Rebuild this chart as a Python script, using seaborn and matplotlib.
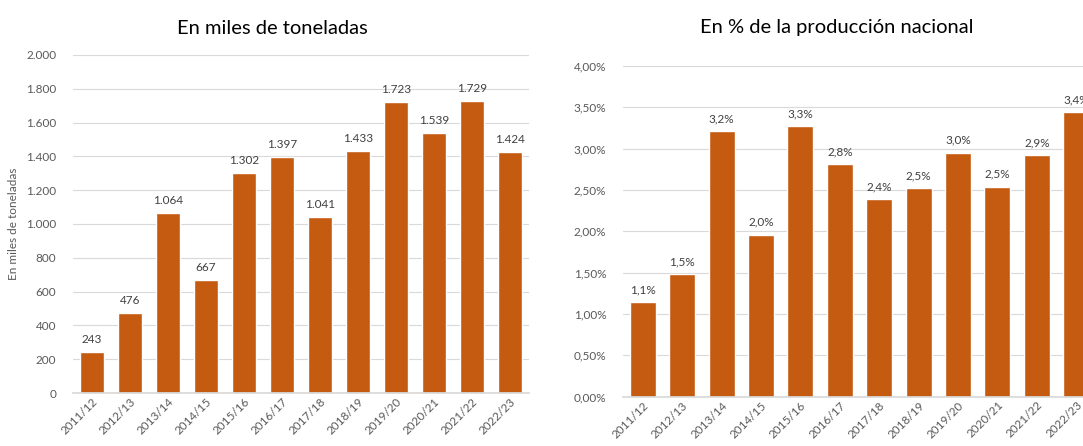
import matplotlib
matplotlib.use('Agg')
import matplotlib.pyplot as plt
import seaborn as sns
import pandas as pd
from matplotlib.ticker import FuncFormatter

campanas = ['2011/12', '2012/13', '2013/14', '2014/15', '2015/16', '2016/17',
            '2017/18', '2018/19', '2019/20', '2020/21', '2021/22', '2022/23']
miles_toneladas = [243, 476, 1064, 667, 1302, 1397, 1041, 1433, 1723, 1539, 1729, 1424]
pct_produccion = [1.14, 1.48, 3.21, 1.96, 3.27, 2.81, 2.39, 2.52, 2.95, 2.54, 2.92, 3.44]

df = pd.DataFrame({'campana': campanas, 'miles': miles_toneladas,
                   'pct': [p / 100 for p in pct_produccion]})

sns.set_theme(style='white')
plt.rcParams['font.family'] = ['Lato', 'DejaVu Sans']

naranja = '#C55A11'
gris_txt = '#595959'
gris_grid = '#D9D9D9'
fs = 8.5

fig = plt.figure(figsize=(10.83, 4.46), dpi=100)
ax1 = fig.add_axes([0.0674, 0.1188, 0.421, 0.758])
ax2 = fig.add_axes([0.5753, 0.1105, 0.4367, 0.742])


def miles_fmt(v, pos=None):
    return f'{int(round(v)):,}'.replace(',', '.')


def pct_fmt(v, pos=None):
    return f'{v * 100:.2f}%'.replace('.', ',')


def estilo(ax):
    ax.set_xlim(-0.5, len(campanas) - 0.5)
    ax.yaxis.grid(True, color=gris_grid, linewidth=0.8)
    ax.set_axisbelow(True)
    for s in ['top', 'right', 'left']:
        ax.spines[s].set_visible(False)
    ax.spines['bottom'].set_color(gris_grid)
    ax.tick_params(axis='y', length=0, labelsize=fs, labelcolor=gris_txt, pad=12)
    ax.tick_params(axis='x', length=0, labelsize=fs, labelcolor=gris_txt, pad=2)
    ax.set_xticks(range(len(campanas)))
    ax.set_xticklabels(campanas, rotation=45, ha='right', rotation_mode='anchor')
    ax.set_xlabel('')


# Grafico izquierdo: miles de toneladas
sns.barplot(data=df, x='campana', y='miles', color=naranja, saturation=1,
            width=0.62, ax=ax1)
ax1.set_ylim(0, 2000)
ax1.set_yticks(range(0, 2001, 200))
ax1.yaxis.set_major_formatter(FuncFormatter(miles_fmt))
estilo(ax1)
ax1.set_ylabel('En miles de toneladas', fontsize=fs, color=gris_txt, labelpad=5)
for i, v in enumerate(miles_toneladas):
    ax1.annotate(miles_fmt(v), (i, v), xytext=(0, 5), textcoords='offset points',
                 ha='center', va='bottom', fontsize=fs, color='#404040')

# Grafico derecho: % de la produccion nacional
sns.barplot(data=df, x='campana', y='pct', color=naranja, saturation=1,
            width=0.66, ax=ax2)
ax2.set_ylim(0, 0.04)
ax2.set_yticks([i * 0.005 for i in range(9)])
ax2.yaxis.set_major_formatter(FuncFormatter(pct_fmt))
estilo(ax2)
ax2.set_ylabel('')
for i, v in enumerate(pct_produccion):
    ax2.annotate(f'{v:.1f}%'.replace('.', ','), (i, v / 100), xytext=(0, 5),
                 textcoords='offset points', ha='center', va='bottom',
                 fontsize=fs, color='#404040')

fig.text(272 / 1083, 1 - 28 / 446, 'En miles de toneladas', ha='center', va='center',
         fontsize=14.5, color='#000000')
fig.text(837 / 1083, 1 - 28 / 446, 'En % de la producción nacional', ha='center',
         va='center', fontsize=14.5, color='#000000')

fig.savefig('out.png', dpi=100)
